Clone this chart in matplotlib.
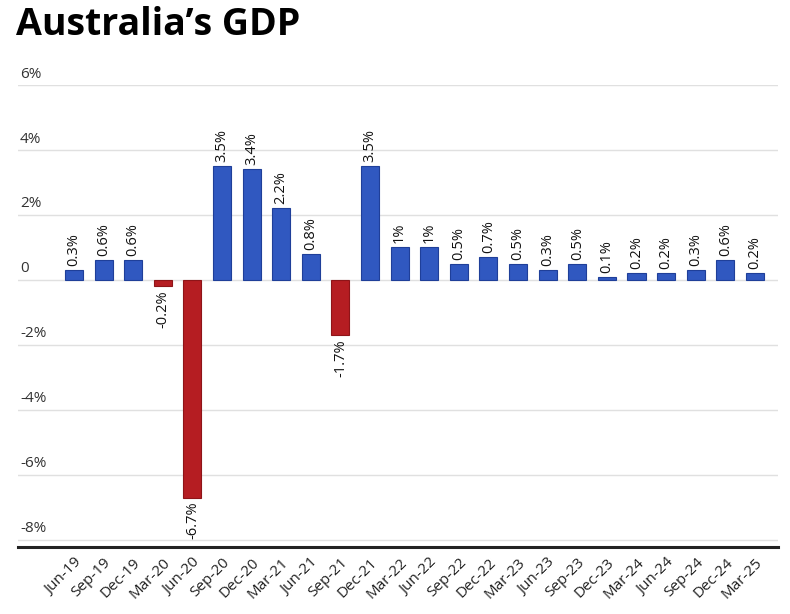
import matplotlib
matplotlib.use("Agg")
import matplotlib.pyplot as plt

quarters = ["Jun-19", "Sep-19", "Dec-19", "Mar-20", "Jun-20", "Sep-20", "Dec-20", "Mar-21",
            "Jun-21", "Sep-21", "Dec-21", "Mar-22", "Jun-22", "Sep-22", "Dec-22", "Mar-23",
            "Jun-23", "Sep-23", "Dec-23", "Mar-24", "Jun-24", "Sep-24", "Dec-24", "Mar-25"]
growth = [0.3, 0.6, 0.6, -0.2, -6.7, 3.5, 3.4, 2.2, 0.8, -1.7, 3.5, 1.0,
          1.0, 0.5, 0.7, 0.5, 0.3, 0.5, 0.1, 0.2, 0.2, 0.3, 0.6, 0.2]
labels = ["0.3%", "0.6%", "0.6%", "-0.2%", "-6.7%", "3.5%", "3.4%", "2.2%", "0.8%", "-1.7%",
          "3.5%", "1%", "1%", "0.5%", "0.7%", "0.5%", "0.3%", "0.5%", "0.1%", "0.2%",
          "0.2%", "0.3%", "0.6%", "0.2%"]
yticks = [-8, -6, -4, -2, 0, 2, 4, 6]
ytick_labels = ["-8%", "-6%", "-4%", "-2%", "0", "2%", "4%", "6%"]

plt.rcParams['font.family'] = ['Open Sans', 'DejaVu Sans']

W, H = 790, 614
fig = plt.figure(figsize=(W / 100, H / 100), dpi=100)
ax_left, ax_right, ax_top, ax_bot = 18, 778, 85, 547
ax = fig.add_axes([ax_left / W, 1 - ax_bot / H, (ax_right - ax_left) / W, (ax_bot - ax_top) / H])

x = list(range(len(quarters)))
pos_c, pos_e = "#3058C0", "#1F3F99"
neg_c, neg_e = "#B51D22", "#8E1418"
colors = [pos_c if v >= 0 else neg_c for v in growth]
edges = [pos_e if v >= 0 else neg_e for v in growth]
ax.bar(x, growth, width=0.61, color=colors, edgecolor=edges, linewidth=0.8, zorder=3)

for xi, v, lab in zip(x, growth, labels):
    if v >= 0:
        ax.annotate(lab, (xi, v), xytext=(0, 3), textcoords="offset points",
                    rotation=90, ha="center", va="bottom", fontsize=10.5, color="#111111")
    else:
        ax.annotate(lab, (xi, v), xytext=(0, -3), textcoords="offset points",
                    rotation=90, ha="center", va="top", fontsize=10.5, color="#111111")

ax.set_xlim(-1.89, 23.78)
ax.set_ylim(-8.22, 6.0)
for t in yticks:
    ax.axhline(t, color="#e0e0e0", linewidth=1.0, zorder=1)
ax.set_yticks([])
for t, lab in zip(yticks, ytick_labels):
    ax.annotate(lab, xy=(0, t), xycoords=("axes fraction", "data"), xytext=(1.5, 2.5),
                textcoords="offset points", ha="left", va="bottom", fontsize=11, color="#333333")

ax.set_xticks(x)
ax.set_xticklabels(quarters, rotation=45, ha="right", rotation_mode="anchor", fontsize=11, color="#222222")
ax.tick_params(axis="x", length=0, pad=6)
for s in ["top", "right", "left"]:
    ax.spines[s].set_visible(False)
ax.spines["bottom"].set_color("#222222")
ax.spines["bottom"].set_linewidth(2.2)

fig.text(16 / W, 1 - 35 / H, "Australia\u2019s GDP", fontsize=27, fontweight="bold",
         ha="left", va="baseline", color="#000000")

fig.savefig("out.png", dpi=100)
